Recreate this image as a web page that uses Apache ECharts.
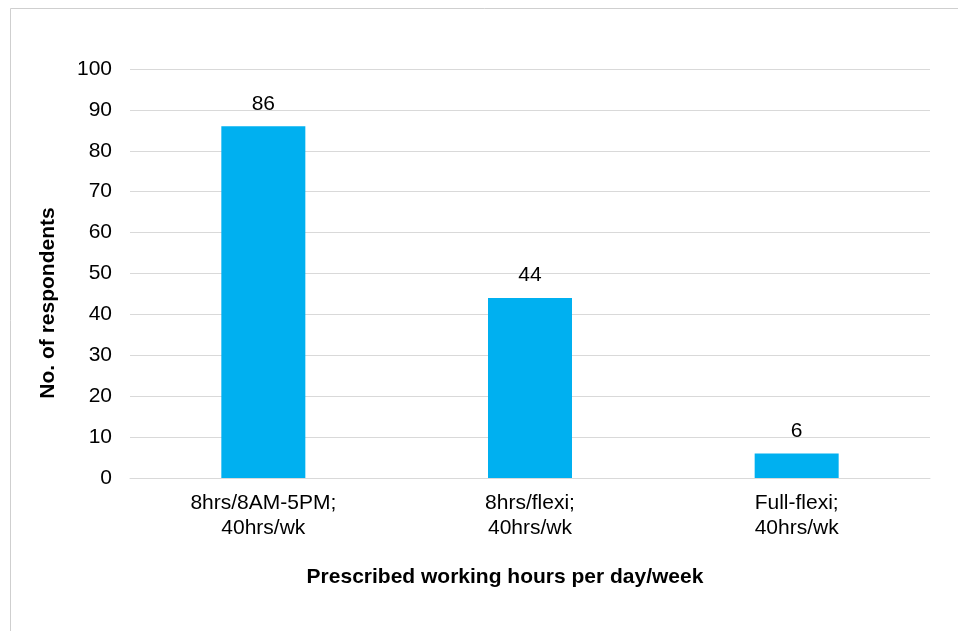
<!DOCTYPE html>
<html>
<head>
<meta charset="utf-8">
<script src="https://cdn.jsdelivr.net/npm/echarts@6/dist/echarts.min.js"></script>
<style>
  html, body { margin: 0; padding: 0; background: #ffffff; }
  #chart { width: 958px; height: 631px; }
</style>
</head>
<body>
<div id="chart"></div>
<script>
// Working-hours arrangements and respondent counts
const categories = ['8hrs/8AM-5PM;\n40hrs/wk', '8hrs/flexi;\n40hrs/wk', 'Full-flexi;\n40hrs/wk'];
const respondents = [86, 44, 6];
const yTicks = [0, 10, 20, 30, 40, 50, 60, 70, 80, 90, 100];

const FONT = '"Liberation Sans", Arial, sans-serif';
const SIZE = 21;
const chart = echarts.init(document.getElementById('chart'), null, { renderer: 'canvas' });

chart.setOption({
  backgroundColor: '#ffffff',
  animation: false,
  grid: { left: 130, right: 28, top: 69, bottom: 153, containLabel: false },
  xAxis: {
    type: 'category',
    data: categories,
    axisTick: { show: false },
    axisLine: { lineStyle: { color: '#d9d9d9', width: 1 } },
    axisLabel: {
      color: '#000000', fontFamily: FONT, fontSize: SIZE,
      lineHeight: 25, margin: 13, interval: 0
    }
  },
  yAxis: {
    type: 'value',
    min: yTicks[0],
    max: yTicks[yTicks.length - 1],
    interval: 10,
    axisLine: { show: false },
    axisTick: { show: false },
    splitLine: { lineStyle: { color: '#d9d9d9', width: 1 } },
    axisLabel: { color: '#000000', fontFamily: FONT, fontSize: SIZE, margin: 18 }
  },
  series: [{
    type: 'bar',
    data: respondents,
    barWidth: 84,
    itemStyle: { color: '#00b0f0' },
    label: {
      show: true, position: 'top', distance: 12,
      color: '#000000', fontFamily: FONT, fontSize: SIZE
    }
  }],
  graphic: [
    {
      type: 'rect',
      shape: { x: 10.5, y: 8.5, width: 960, height: 640 },
      style: { fill: 'none', stroke: '#cfcfcf', lineWidth: 1 },
      silent: true
    },
    {
      type: 'text',
      x: 505, y: 577,
      style: {
        text: 'Prescribed working hours per day/week',
        fontFamily: FONT, fontSize: SIZE, fontWeight: 'bold', fill: '#000000',
        align: 'center', verticalAlign: 'middle'
      }
    },
    {
      type: 'text',
      x: 48, y: 303,
      rotation: Math.PI / 2,
      style: {
        text: 'No. of respondents',
        fontFamily: FONT, fontSize: SIZE, fontWeight: 'bold', fill: '#000000',
        align: 'center', verticalAlign: 'middle'
      }
    }
  ]
});
</script>
</body>
</html>
